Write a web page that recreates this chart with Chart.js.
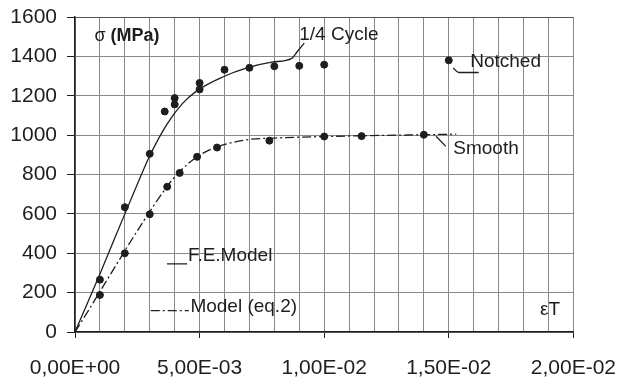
<!DOCTYPE html>
<html>
<head>
<meta charset="utf-8">
<script src="https://cdn.jsdelivr.net/npm/chart.js@4"></script>
<style>
  html, body { margin: 0; padding: 0; background: #fff; }
</style>
</head>
<body>
<canvas id="chart" width="634" height="380"></canvas>
<script>
// measured points: notched specimen (strain, stress in MPa)
const notchedStrain = [0.001, 0.002, 0.003, 0.0036, 0.004, 0.004, 0.005, 0.005, 0.006, 0.007, 0.008, 0.009, 0.010, 0.015];
const notchedStress = [266, 634, 905, 1120, 1188, 1156, 1265, 1232, 1332, 1342, 1350, 1352, 1358, 1380];

// measured points: smooth specimen
const smoothStrain = [0.001, 0.002, 0.003, 0.0037, 0.0042, 0.0049, 0.0057, 0.0078, 0.010, 0.0115, 0.014];
const smoothStress = [188, 400, 598, 738, 808, 890, 937, 972, 993, 995, 1002];

// F.E. model curve (notched), ends in the 1/4 cycle hook
const feStrain = [0, 0.001, 0.002, 0.0025, 0.003, 0.0037, 0.0043, 0.0049, 0.0059, 0.007, 0.0079, 0.0087, 0.0089, 0.0092];
const feStress = [0, 295, 600, 750, 895, 1057, 1159, 1226, 1294, 1345, 1371, 1390, 1421, 1467];

// eq.2 model curve (smooth)
const modelStrain = [0, 0.0037, 0.0042, 0.0049, 0.0057, 0.007, 0.008, 0.010, 0.014, 0.0153];
const modelStress = [0, 740, 815, 890, 940, 978, 985, 993, 1002, 1005];

// axis ticks
const xTicks = [0, 0.005, 0.01, 0.015, 0.02];
const yTicks = [0, 200, 400, 600, 800, 1000, 1200, 1400, 1600];

// leader lines and key samples, in data units
const notchedLeader = [[0.01518, 1341], [0.0154, 1318], [0.0162, 1318]];
const smoothLeader = [[0.01449, 994], [0.01488, 943]];
const feKey = [[0.00369, 346], [0.0045, 346]];
const modelKey = [[0.00304, 109], [0.00457, 109]];

// text placed on the plot
const notes = [
  { parts: [['σ ', ''], ['(MPa)', 'bold ']], x: 0.00078, y: 1501, size: 18 },
  { parts: [['1/4 Cycle', '']], x: 0.009, y: 1510, size: 19 },
  { parts: [['Notched', '']], x: 0.01586, y: 1373, size: 19 },
  { parts: [['Smooth', '']], x: 0.01518, y: 930, size: 19 },
  { parts: [['F.E.Model', '']], x: 0.00453, y: 385, size: 19 },
  { parts: [['Model (eq.2)', '']], x: 0.00463, y: 128, size: 19 },
  { parts: [['εT', '']], x: 0.01866, y: 114, size: 19 }
];

const zip = (xs, ys) => xs.map((x, i) => ({ x: x, y: ys[i] }));
const pairs = arr => arr.map(p => ({ x: p[0], y: p[1] }));
const FONT = "'Liberation Sans', Arial, sans-serif";
const INK = '#1e1e1e';
const GRID = '#888';
const EDGE = '#555';
const dashDot = [9, 3, 2, 3];

function sci(v) {
  const parts = v.toExponential(2).split('e');
  const e = parseInt(parts[1], 10);
  const exp = (e < 0 ? '-' : '+') + String(Math.abs(e)).padStart(2, '0');
  return parts[0].replace('.', ',') + 'E' + exp;
}

function isMajorX(v) {
  return xTicks.some(t => Math.abs(t - v) < 1e-9);
}

const notesPlugin = {
  id: 'notes',
  afterDatasetsDraw(chart) {
    const ctx = chart.ctx;
    const xs = chart.scales.x, ys = chart.scales.y;
    ctx.save();
    ctx.fillStyle = INK;
    ctx.textBaseline = 'middle';
    ctx.textAlign = 'left';
    notes.forEach(n => {
      let px = xs.getPixelForValue(n.x);
      const py = ys.getPixelForValue(n.y);
      n.parts.forEach(p => {
        ctx.font = p[1] + n.size + 'px ' + FONT;
        ctx.fillText(p[0], px, py);
        px += ctx.measureText(p[0]).width;
      });
    });
    ctx.restore();
  }
};

const lineStyle = (data, dash) => ({
  data: data,
  showLine: true,
  borderColor: INK,
  borderWidth: 1.3,
  borderDash: dash || [],
  pointRadius: 0,
  fill: false,
  cubicInterpolationMode: 'monotone'
});

new Chart(document.getElementById('chart'), {
  type: 'scatter',
  data: {
    datasets: [
      lineStyle(zip(feStrain, feStress)),
      lineStyle(zip(modelStrain, modelStress), dashDot),
      lineStyle(pairs(notchedLeader)),
      lineStyle(pairs(smoothLeader)),
      lineStyle(pairs(feKey)),
      lineStyle(pairs(modelKey), dashDot),
      {
        data: zip(notchedStrain, notchedStress),
        backgroundColor: INK,
        borderColor: INK,
        pointRadius: 3.5
      },
      {
        data: zip(smoothStrain, smoothStress),
        backgroundColor: INK,
        borderColor: INK,
        pointRadius: 3.5
      }
    ]
  },
  options: {
    responsive: false,
    animation: false,
    layout: { padding: { top: 17, right: 47, left: 0, bottom: 0 } },
    plugins: {
      legend: { display: false },
      tooltip: { enabled: false }
    },
    scales: {
      x: {
        type: 'linear',
        min: 0,
        max: 0.02,
        afterFit: s => { s.height = 48; },
        border: { color: INK, width: 1.5 },
        grid: {
          color: GRID,
          lineWidth: 1,
          tickLength: 6,
          tickColor: c => (c.tick && isMajorX(c.tick.value)) ? INK : 'rgba(0,0,0,0)'
        },
        ticks: {
          stepSize: 0.001,
          autoSkip: false,
          maxRotation: 0,
          minRotation: 0,
          padding: 18,
          color: INK,
          font: { family: FONT, size: 21 },
          callback: v => isMajorX(v) ? sci(v) : ''
        }
      },
      y: {
        min: 0,
        max: 1600,
        afterFit: s => { s.width = 75; s.paddingTop = 0; s.paddingBottom = 0; },
        border: { color: INK, width: 1.5 },
        grid: {
          color: c => (c.tick && c.tick.value === 1600) ? EDGE : GRID,
          lineWidth: 1,
          tickLength: 8,
          tickColor: INK
        },
        ticks: {
          stepSize: 200,
          padding: 10,
          color: INK,
          font: { family: FONT, size: 21 },
          callback: v => yTicks.includes(v) ? String(v) : ''
        }
      }
    }
  },
  plugins: [notesPlugin]
});
</script>
</body>
</html>
